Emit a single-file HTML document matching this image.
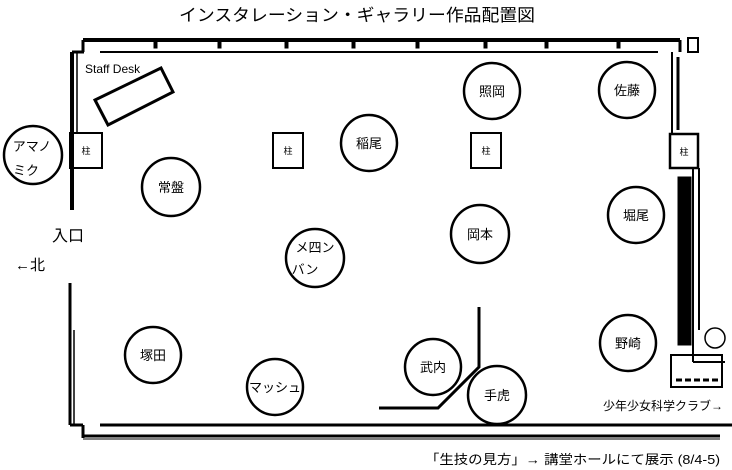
<!DOCTYPE html>
<html><head><meta charset="utf-8"><style>
html,body{margin:0;padding:0;background:#fff;}
svg{display:block;font-family:"Liberation Sans","Noto Sans CJK JP",sans-serif;}
</style></head><body>
<svg width="732" height="470" viewBox="0 0 732 470" xmlns="http://www.w3.org/2000/svg">
<rect width="732" height="470" fill="#fff"/>
<text x="357" y="21" font-size="17" text-anchor="middle" textLength="356" lengthAdjust="spacingAndGlyphs">インスタレーション・ギャラリー作品配置図</text>
<g stroke="#000" fill="none">
<!-- top wall -->
<line x1="83" y1="40" x2="680" y2="40" stroke-width="4"/>
<line x1="100" y1="52" x2="658" y2="52" stroke-width="2"/>
<line x1="83" y1="40" x2="83" y2="52" stroke-width="3"/>
<rect x="154" y="42" width="3" height="6" fill="#000"/>
<rect x="218" y="42" width="3" height="6" fill="#000"/>
<rect x="285" y="42" width="3" height="6" fill="#000"/>
<rect x="352" y="42" width="3" height="6" fill="#000"/>
<rect x="416" y="42" width="3" height="6" fill="#000"/>
<rect x="484" y="42" width="3" height="6" fill="#000"/>
<rect x="545" y="42" width="3" height="6" fill="#000"/>
<rect x="617" y="42" width="3" height="6" fill="#000"/>
<!-- left wall -->
<line x1="72" y1="52" x2="72" y2="210" stroke-width="4"/>
<line x1="77" y1="52" x2="77" y2="132" stroke-width="1.5"/>
<line x1="72" y1="52" x2="84" y2="52" stroke-width="3"/>
<line x1="70" y1="283" x2="70" y2="425" stroke-width="3"/>
<line x1="74" y1="330" x2="74" y2="425" stroke-width="1.5"/>
<line x1="70" y1="425" x2="83" y2="425" stroke-width="3"/>
<line x1="83" y1="425" x2="83" y2="438" stroke-width="3"/>
<!-- bottom wall -->
<line x1="100" y1="425" x2="732" y2="425" stroke-width="3"/>
<line x1="83" y1="436" x2="720" y2="436" stroke-width="3"/>
<line x1="83" y1="439" x2="720" y2="439" stroke-width="1"/>
<!-- right wall -->
<line x1="680" y1="40" x2="680" y2="52" stroke-width="3"/>
<rect x="688" y="38" width="10" height="14" stroke-width="2"/>
<line x1="672" y1="52" x2="672" y2="134" stroke-width="2"/>
<line x1="678" y1="57" x2="678" y2="130" stroke-width="3"/>
<rect x="670" y="134" width="28" height="34" stroke-width="2.5"/>
<rect x="678" y="177" width="13" height="168" fill="#000" stroke-width="1"/>
<line x1="693" y1="168" x2="693" y2="362" stroke-width="2"/>
<line x1="699" y1="168" x2="699" y2="330" stroke-width="2"/>
<line x1="693" y1="362" x2="725" y2="362" stroke-width="2"/>
<circle cx="715" cy="338" r="10" stroke-width="1.5"/>
<rect x="671" y="355" width="51" height="32" stroke-width="2"/>
<line x1="676" y1="380" x2="720" y2="380" stroke-width="3" stroke-dasharray="6 3"/>
<!-- pillars -->
<rect x="70" y="133" width="32" height="35" stroke-width="2"/>
<rect x="273" y="133" width="30" height="35" stroke-width="2"/>
<rect x="471" y="133" width="30" height="35" stroke-width="2"/>
<!-- staff desk -->
<polygon points="95,100 161,68 173,92 108,125" stroke-width="3"/>
<!-- partitions -->
<polyline points="479,307 479,367 438,408 379,408" stroke-width="3"/>
<!-- circles -->
<g stroke-width="2.5">
<circle cx="33" cy="155" r="29"/>
<circle cx="171" cy="187" r="29"/>
<circle cx="369" cy="143" r="28"/>
<circle cx="492" cy="91" r="28"/>
<circle cx="627" cy="90" r="28"/>
<circle cx="480" cy="234" r="29"/>
<circle cx="636" cy="215" r="28"/>
<circle cx="315" cy="258" r="29"/>
<circle cx="153" cy="355" r="28"/>
<circle cx="275" cy="387" r="28"/>
<circle cx="433" cy="367" r="28"/>
<circle cx="497" cy="395" r="29"/>
<circle cx="628" cy="343" r="28"/>
</g>
</g>
<g font-size="13" text-anchor="middle" fill="#000">
<text x="86" y="154" font-size="9">柱</text>
<text x="288" y="154" font-size="9">柱</text>
<text x="486" y="154" font-size="9">柱</text>
<text x="684" y="155" font-size="9">柱</text>
<text x="32" y="151">アマノ</text>
<text x="26" y="175">ミク</text>
<text x="171" y="192">常盤</text>
<text x="369" y="148">稲尾</text>
<text x="492" y="96">照岡</text>
<text x="627" y="95">佐藤</text>
<text x="480" y="239">岡本</text>
<text x="636" y="220">堀尾</text>
<text x="315" y="252">メ四ン</text>
<text x="305" y="274">バン</text>
<text x="153" y="360">塚田</text>
<text x="275" y="392">マッシュ</text>
<text x="433" y="372">武内</text>
<text x="497" y="400">手虎</text>
<text x="628" y="348">野崎</text>
</g>
<text x="85" y="73" font-size="12">Staff Desk</text>
<text x="52" y="241" font-size="16">入口</text>
<text x="15" y="270" font-size="15">←北</text>
<text x="603" y="410" font-size="12">少年少女科学クラブ→</text>
<text x="425" y="464" font-size="13" textLength="295" lengthAdjust="spacingAndGlyphs">「生技の見方」→ 講堂ホールにて展示 (8/4-5)</text>
</svg>
</body></html>
